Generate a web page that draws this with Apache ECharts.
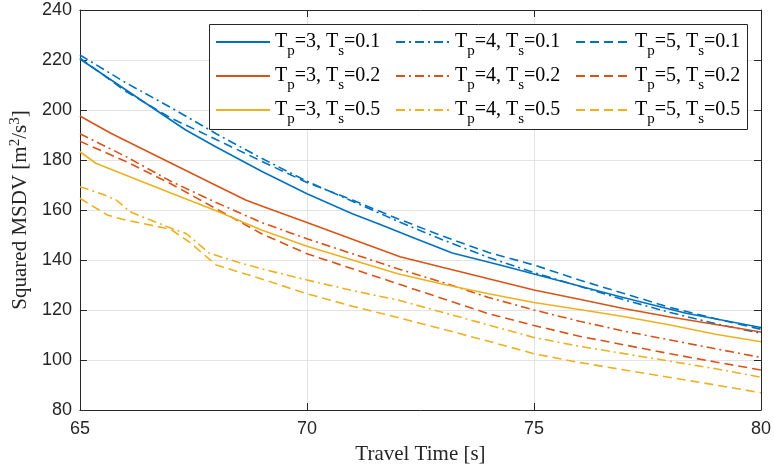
<!DOCTYPE html>
<html>
<head>
<meta charset="utf-8">
<script src="https://cdn.jsdelivr.net/npm/echarts@6/dist/echarts.min.js"></script>
<style>
  html, body { margin: 0; padding: 0; background: #ffffff; }
  #chart { width: 774px; height: 471px; }
</style>
</head>
<body>
<div id="chart"></div>
<script>
// Squared MSDV [m^2/s^3] versus travel time [s] for each (Tp, Ts) combination

const tp3ts01Time = [65, 66, 67, 67.33, 68, 69, 70, 71, 71.6, 72.4, 73.2, 74.25, 75, 76, 76.9, 78.35, 80];
const tp3ts01Msdv = [220.4, 208.2, 196, 192, 185.2, 175.5, 166.5, 158.5, 154.3, 148.5, 142.8, 138, 134.4, 129.6, 125.3, 118.7, 113];

const tp4ts01Time = [65, 66, 67, 68, 69, 70, 71, 72, 73, 74, 75, 76, 77, 78, 79, 80];
const tp4ts01Msdv = [222, 211, 201, 190.5, 180.7, 171.5, 163.5, 155.5, 148, 141, 135, 129.5, 124, 119, 114.5, 110.7];

const tp5ts01Time = [65, 66, 67, 68, 69, 70, 71, 72, 73, 74, 75, 76, 77, 78, 79, 80];
const tp5ts01Msdv = [220.8, 207.6, 196.8, 188.2, 179.5, 171, 164, 156.5, 149.5, 143, 138, 132, 126.5, 121, 116.5, 112.3];

const tp3ts02Time = [65, 65.68, 66, 67, 68, 68.65, 69, 70, 71, 72.05, 73, 74, 75, 76, 77, 78, 79, 80];
const tp3ts02Msdv = [197.6, 190.7, 187.8, 178.8, 169.8, 164, 161.6, 155, 148.3, 141.3, 137, 132.5, 128, 124.3, 120.5, 117.2, 114.2, 111.2];

const tp4ts02Time = [65, 66, 67, 68, 69, 70, 71, 72, 73, 74, 75, 76, 77, 78, 79, 80];
const tp4ts02Msdv = [190.5, 181.5, 171.5, 163, 155, 148.5, 142.5, 136.5, 131, 125, 120, 115.5, 111.5, 108, 104.5, 101];

const tp5ts02Time = [65, 66, 67, 68, 69, 70, 71, 72, 73, 74, 75, 76, 77, 78, 79, 80];
const tp5ts02Msdv = [187.5, 179.5, 170.5, 160.5, 150.5, 142.5, 136.5, 130.5, 124.5, 118.5, 113.8, 109.5, 106, 102.5, 99.2, 96];

const tp3ts05Time = [65, 65.35, 66, 67, 68, 69, 70, 71, 72, 73, 74, 75, 76, 77, 78, 79, 80];
const tp3ts05Msdv = [183.3, 178.7, 174, 166.8, 159.7, 152, 145.5, 140, 134.5, 130.3, 126.5, 123, 120.2, 117.3, 114, 110.3, 107.3];

const tp4ts05Time = [65, 65.5, 65.8, 66.1, 67, 67.35, 67.85, 68.5, 69, 70, 71, 72, 73, 74, 75, 76, 77, 78, 79, 80];
const tp4ts05Msdv = [169.3, 166.3, 164, 159.3, 152.8, 150.5, 142.7, 139, 136.5, 132, 127.8, 124, 119, 114, 109, 105.5, 102.5, 99.5, 96.5, 93.1];

const tp5ts05Time = [65, 65.6, 66, 67, 67.4, 68, 68.5, 69, 70, 71, 72, 73, 74, 75, 76, 77, 78, 79, 80];
const tp5ts05Msdv = [164.7, 158, 156, 152.3, 147.3, 138, 135.2, 132.4, 126.5, 121.5, 117, 112.3, 107.5, 102.5, 99, 96, 93, 90, 86.9];

// Legend parameters and axis ticks
const tpValues = ['3', '4', '5'];
const tsValues = ['0.1', '0.2', '0.5'];
const xTickStart = 65, xTickEnd = 80, xTickStep = 5;
const yTickStart = 80, yTickEnd = 240, yTickStep = 20;

const curves = [
  { tp: 0, ts: 0, time: tp3ts01Time, msdv: tp3ts01Msdv },
  { tp: 1, ts: 0, time: tp4ts01Time, msdv: tp4ts01Msdv },
  { tp: 2, ts: 0, time: tp5ts01Time, msdv: tp5ts01Msdv },
  { tp: 0, ts: 1, time: tp3ts02Time, msdv: tp3ts02Msdv },
  { tp: 1, ts: 1, time: tp4ts02Time, msdv: tp4ts02Msdv },
  { tp: 2, ts: 1, time: tp5ts02Time, msdv: tp5ts02Msdv },
  { tp: 0, ts: 2, time: tp3ts05Time, msdv: tp3ts05Msdv },
  { tp: 1, ts: 2, time: tp4ts05Time, msdv: tp4ts05Msdv },
  { tp: 2, ts: 2, time: tp5ts05Time, msdv: tp5ts05Msdv }
];

// Colour per Ts, dash pattern per Tp
const tsColors = ['#0072BD', '#D95319', '#EDB120'];
const tpDashes = ['solid', [9, 4, 2, 4], [9, 5]];

const axisInk = '#262626';
const gridInk = '#e3e3e3';
const sansFont = '"Liberation Sans", Arial, Helvetica, sans-serif';
const serifFont = '"Liberation Serif", "Times New Roman", serif';

const curveName = c => 'Tp=' + tpValues[c.tp] + ', Ts=' + tsValues[c.ts];

const series = curves.map(c => ({
  name: curveName(c),
  type: 'line',
  xAxisIndex: 0,
  yAxisIndex: 0,
  showSymbol: false,
  symbol: 'none',
  silent: true,
  animation: false,
  z: 2,
  lineStyle: { color: tsColors[c.ts], width: 1.6, type: tpDashes[c.tp] },
  itemStyle: { color: tsColors[c.ts] },
  data: c.time.map((t, i) => [t, c.msdv[i]])
}));

const legendRich = {
  n: { fontFamily: serifFont, fontSize: 20, color: '#000000', verticalAlign: 'middle' },
  sub: { fontFamily: serifFont, fontSize: 15, color: '#000000', verticalAlign: 'bottom', padding: [18, 0, 0, 0] }
};

const legendColumnLeft = [215, 395, 575];
const legendRowTop = [32, 66, 100];

const legends = curves.map(c => ({
  data: [curveName(c)],
  left: legendColumnLeft[c.tp],
  top: legendRowTop[c.ts],
  padding: 0,
  z: 10,
  itemWidth: 54,
  itemHeight: 14,
  itemGap: 0,
  selectedMode: false,
  itemStyle: { color: 'rgba(0,0,0,0)', borderColor: 'rgba(0,0,0,0)', borderWidth: 0, opacity: 0 },
  formatter: () => '{n|T}{sub|p}{n|=' + tpValues[c.tp] + ', T}{sub|s}{n|=' + tsValues[c.ts] + '}',
  textStyle: { rich: legendRich }
}));

const tickLabel = { color: axisInk, fontFamily: sansFont, fontSize: 18 };

const option = {
  backgroundColor: '#ffffff',
  animation: false,
  grid: { left: 79, right: 12, top: 10, bottom: 61, containLabel: false },
  legend: legends,
  graphic: [{
    type: 'rect',
    left: 209, top: 24, z: 6,
    shape: { width: 538, height: 105 },
    style: { fill: '#ffffff', stroke: axisInk, lineWidth: 1 }
  }],
  xAxis: [{
    type: 'value',
    position: 'bottom',
    min: xTickStart, max: xTickEnd, interval: xTickStep,
    name: 'Travel Time [s]',
    nameLocation: 'middle',
    nameGap: 34,
    nameTextStyle: { fontFamily: serifFont, fontSize: 21, color: axisInk },
    axisLine: { show: true, onZero: false, lineStyle: { color: axisInk, width: 1 } },
    axisTick: { show: true, inside: true, length: 7, lineStyle: { color: axisInk } },
    axisLabel: Object.assign({ margin: 10 }, tickLabel),
    splitLine: { show: true, lineStyle: { color: gridInk, width: 1 } }
  }, {
    type: 'value',
    position: 'top',
    min: xTickStart, max: xTickEnd, interval: xTickStep,
    axisLine: { show: true, onZero: false, lineStyle: { color: axisInk, width: 1 } },
    axisTick: { show: true, inside: true, length: 7, lineStyle: { color: axisInk } },
    axisLabel: { show: false },
    splitLine: { show: false }
  }],
  yAxis: [{
    type: 'value',
    position: 'left',
    min: yTickStart, max: yTickEnd, interval: yTickStep,
    name: '{n|Squared MSDV [m}{sup|2}{n|/s}{sup|3}{n|]}',
    nameLocation: 'middle',
    nameGap: 46,
    nameTextStyle: {
      color: axisInk,
      rich: {
        n: { fontFamily: serifFont, fontSize: 21, color: axisInk },
        sup: { fontFamily: serifFont, fontSize: 15, color: axisInk, verticalAlign: 'top', padding: [0, 0, 10, 0] }
      }
    },
    axisLine: { show: true, onZero: false, lineStyle: { color: axisInk, width: 1 } },
    axisTick: { show: true, inside: true, length: 7, lineStyle: { color: axisInk } },
    axisLabel: Object.assign({ margin: 8 }, tickLabel),
    splitLine: { show: true, lineStyle: { color: gridInk, width: 1 } }
  }, {
    type: 'value',
    position: 'right',
    min: yTickStart, max: yTickEnd, interval: yTickStep,
    axisLine: { show: true, onZero: false, lineStyle: { color: axisInk, width: 1 } },
    axisTick: { show: true, inside: true, length: 7, lineStyle: { color: axisInk } },
    axisLabel: { show: false },
    splitLine: { show: false }
  }],
  series: series
};

const chart = echarts.init(document.getElementById('chart'), null, { renderer: 'canvas' });
chart.setOption(option);
</script>
</body>
</html>
